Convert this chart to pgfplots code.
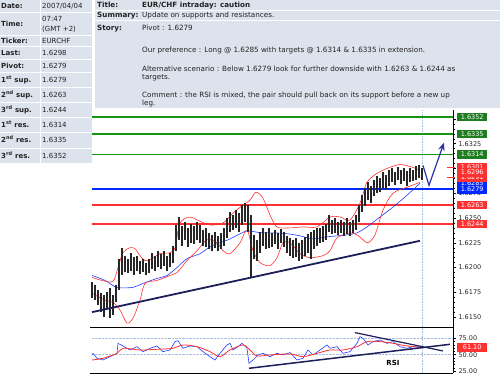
\documentclass[border=0pt]{standalone}
\usepackage{pgfplots}
\pgfplotsset{compat=1.18}
\usepackage{pgfplotstable}
\usepackage{fontspec}
\setmainfont{DejaVu Sans}
\usetikzlibrary{arrows.meta}
\definecolor{panel}{RGB}{221,227,236}
\definecolor{lvgreen}{RGB}{20,150,20}
\definecolor{boxgreen}{RGB}{30,125,30}
\definecolor{lvred}{RGB}{255,48,48}
\definecolor{lvlblue}{RGB}{0,40,255}
\definecolor{mablue}{RGB}{30,60,255}
\definecolor{navy}{RGB}{30,30,90}
\definecolor{txt}{RGB}{34,34,34}
\definecolor{gridc}{RGB}{165,190,225}
\definecolor{arrowc}{RGB}{40,50,170}
\newcommand\ft{\fontsize{7}{8.5}\selectfont}
\newcommand\fp{\fontsize{7.2}{8.5}\selectfont}
\newcommand\fs{\fontsize{6.5}{7.5}\selectfont}

\pgfplotstableread{
x lo hi
92 1.6169 1.6185
95 1.6167 1.6182
98 1.6162 1.6177
101 1.6155 1.6174
104 1.6150 1.6172
107 1.6159 1.6175
110 1.6149 1.6179
113 1.6152 1.6172
116 1.6165 1.6182
119 1.6177 1.6209
122 1.6192 1.6220
125 1.6195 1.6212
128 1.6194 1.6209
131 1.6197 1.6215
134 1.6192 1.6211
137 1.6197 1.6212
140 1.6193 1.6207
143 1.6195 1.6209
146 1.6192 1.6205
149 1.6194 1.6209
152 1.6199 1.6215
155 1.6197 1.6212
158 1.6201 1.6217
161 1.6199 1.6214
164 1.6202 1.6217
167 1.6197 1.6212
170 1.6201 1.6215
173 1.6205 1.6222
176 1.6217 1.6243
179 1.6228 1.6251
182 1.6222 1.6242
185 1.6228 1.6246
188 1.6221 1.6240
191 1.6225 1.6244
194 1.6224 1.6242
197 1.6228 1.6246
200 1.6225 1.6243
203 1.6222 1.6238
206 1.6221 1.6240
209 1.6219 1.6235
212 1.6217 1.6233
215 1.6220 1.6236
218 1.6217 1.6232
221 1.6219 1.6235
224 1.6222 1.6240
227 1.6230 1.6250
230 1.6236 1.6256
233 1.6238 1.6253
236 1.6240 1.6258
239 1.6236 1.6255
242 1.6243 1.6263
245 1.6246 1.6265
248 1.6236 1.6263
251 1.6190 1.6253
254 1.6209 1.6233
257 1.6207 1.6228
260 1.6215 1.6236
263 1.6222 1.6240
266 1.6219 1.6236
269 1.6220 1.6240
272 1.6221 1.6235
275 1.6224 1.6238
278 1.6219 1.6235
281 1.6225 1.6239
284 1.6221 1.6236
287 1.6215 1.6232
290 1.6212 1.6230
293 1.6210 1.6228
296 1.6211 1.6230
299 1.6207 1.6225
302 1.6209 1.6228
305 1.6212 1.6231
308 1.6215 1.6234
311 1.6209 1.6236
314 1.6219 1.6238
317 1.6222 1.6240
320 1.6225 1.6240
323 1.6226 1.6242
326 1.6228 1.6244
329 1.6236 1.6253
332 1.6234 1.6248
335 1.6235 1.6250
338 1.6233 1.6246
341 1.6235 1.6248
344 1.6232 1.6246
347 1.6234 1.6250
350 1.6232 1.6246
353 1.6235 1.6248
356 1.6238 1.6253
359 1.6246 1.6263
362 1.6256 1.6273
365 1.6262 1.6280
368 1.6268 1.6286
371 1.6265 1.6282
374 1.6272 1.6288
377 1.6275 1.6292
380 1.6276 1.6290
383 1.6280 1.6296
386 1.6278 1.6293
389 1.6282 1.6298
392 1.6286 1.6300
395 1.6283 1.6296
398 1.6288 1.6301
401 1.6284 1.6298
404 1.6287 1.6300
407 1.6282 1.6297
410 1.6286 1.6300
413 1.6287 1.6298
416 1.6288 1.6302
419 1.6290 1.6303
422 1.6288 1.6300
}\bars

\tikzset{lbl/.style={anchor=west, xshift=4pt, inner sep=0.6pt, minimum width=30pt, minimum height=8.5pt, font=\fs, text=white}}

\begin{document}
\begin{tikzpicture}
\useasboundingbox (0pt,0pt) rectangle (500pt,374pt);
\begin{scope}[shift={(0pt,374pt)}, x=1pt, y=-1pt]
 % left table
 \foreach \a/\b in {0/12,13/35,36/46,47/59,60/72,73/87,88/102,103/117,118/132,133/148,149/163}{
   \fill[panel] (0,\a) rectangle (40,\b);
   \fill[panel] (41,\a) rectangle (92,\b);
 }
 \begin{scope}[every node/.style={anchor=base west, inner sep=0pt, text=txt}]
 \node[font=\ft\bfseries] at (1,8.5) {Date:};
 \node[font=\ft] at (42,8.5) {2007/04/04};
 \node[font=\ft\bfseries] at (1,26.5) {Time:};
 \node[font=\ft] at (42,22) {07:47};
 \node[font=\ft] at (42,31.5) {(GMT +2)};
 \node[font=\ft\bfseries] at (1,43.5) {Ticker:};
 \node[font=\ft] at (42,43.5) {EURCHF};
 \node[font=\ft\bfseries] at (1,55.5) {Last:};
 \node[font=\ft] at (42,55.5) {1.6298};
 \node[font=\ft\bfseries] at (1,68.5) {Pivot:};
 \node[font=\ft] at (42,68.5) {1.6279};
 \node[font=\ft\bfseries] at (1,82.5) {1\textsuperscript{st} sup.};
 \node[font=\ft] at (42,82.5) {1.6279};
 \node[font=\ft\bfseries] at (1,97.5) {2\textsuperscript{nd} sup.};
 \node[font=\ft] at (42,97.5) {1.6263};
 \node[font=\ft\bfseries] at (1,112.5) {3\textsuperscript{rd} sup.};
 \node[font=\ft] at (42,112.5) {1.6244};
 \node[font=\ft\bfseries] at (1,127.5) {1\textsuperscript{st} res.};
 \node[font=\ft] at (42,127.5) {1.6314};
 \node[font=\ft\bfseries] at (1,143) {2\textsuperscript{nd} res.};
 \node[font=\ft] at (42,143) {1.6335};
 \node[font=\ft\bfseries] at (1,158.5) {3\textsuperscript{rd} res.};
 \node[font=\ft] at (42,158.5) {1.6352};
 \end{scope}
 % top panel
 \fill[panel] (95,0) rectangle (500,10);
 \fill[panel] (95,11) rectangle (500,20);
 \fill[panel] (95,21) rectangle (500,108);
 \begin{scope}[every node/.style={anchor=base west, inner sep=0pt, text=txt}]
 \node[font=\fp\bfseries] at (97,8) {Title:};
 \node[font=\fp\bfseries] at (142,8) {EUR/CHF intraday: caution};
 \node[font=\fp\bfseries] at (97,18) {Summary:};
 \node[font=\fp] at (142,18) {Update on supports and resistances.};
 \node[font=\fp\bfseries] at (97,30.5) {Story:};
 \node[font=\fp] at (142,30.5) {Pivot : 1.6279};
 \node[font=\fp] at (142,52.5) {Our preference : Long @ 1.6285 with targets @ 1.6314 \& 1.6335 in extension.};
 \node[font=\fp] at (142,71.5) {Alternative scenario : Below 1.6279 look for further downside with 1.6263 \& 1.6244 as};
 \node[font=\fp] at (142,79.5) {targets.};
 \node[font=\fp] at (142,97.5) {Comment : the RSI is mixed, the pair should pull back on its support before a new up};
 \node[font=\fp] at (142,105.5) {leg.};
 \end{scope}
\end{scope}

% ---------------- main price axis
\begin{axis}[
 at={(92pt,47pt)}, anchor=south west, scale only axis,
 width=361pt, height=217pt,
 xmin=92, xmax=453, ymin=1.6140, ymax=1.6359,
 clip=false,
 axis x line=none, axis y line*=right,
 axis line style={black, line width=0.6pt},
 ytick={1.615,1.6175,1.62,1.6225,1.625,1.6275,1.63,1.6325,1.635},
 yticklabels={1.6150,1.6175,1.6200,1.6225,1.6250,1.6275,,1.6325,},
 minor y tick num=4,
 tick align=outside,
 major tick length=3pt, minor tick length=1.5pt,
 tick style={black, line width=0.4pt},
 yticklabel style={font=\fs, text=black!85, xshift=-1pt},
]
\addplot[gridc, densely dotted, line width=0.6pt] coordinates {(422,1.6140) (422,1.6359)};
\addplot[lvgreen, line width=1.8pt] coordinates {(92,1.6352) (453,1.6352)};
\addplot[lvgreen, line width=1.8pt] coordinates {(92,1.6335) (453,1.6335)};
\addplot[lvgreen, line width=1.8pt] coordinates {(92,1.6314) (453,1.6314)};
\addplot[lvlblue, line width=1.6pt] coordinates {(92,1.6279) (453,1.6279)};
\addplot[lvred, line width=1.6pt] coordinates {(92,1.6263) (453,1.6263)};
\addplot[lvred, line width=1.6pt] coordinates {(92,1.6244) (453,1.6244)};
% moving average
\addplot[mablue, line width=0.6pt, smooth] coordinates {(92,1.6192) (105,1.6187) (117,1.6180) (133,1.6180) (143,1.6184) (157,1.6189) (167,1.6192) (177,1.6200) (187,1.6209) (200,1.6214) (212,1.6222) (228,1.6228) (242,1.6235) (248,1.6237) (262,1.6235) (275,1.6235) (288,1.6234) (300,1.6232) (313,1.6229) (327,1.6231) (347,1.6233) (357,1.6235) (367,1.6241) (380,1.6251) (393,1.6261) (407,1.6273) (420,1.6285)};
% bands
\addplot[lvred, line width=0.6pt, smooth] coordinates {(92,1.6190) (102,1.6187) (113,1.6186) (118,1.6200) (123,1.6215) (130,1.6220) (135,1.6219) (140,1.6212) (145,1.6207) (152,1.6209) (160,1.6214) (170,1.6215) (175,1.6220) (180,1.6245) (190,1.6251) (197,1.6248) (210,1.6243) (223,1.6245) (233,1.6255) (243,1.6263) (250,1.6268) (256,1.6276) (263,1.6270) (270,1.6253) (277,1.6241) (290,1.6240) (303,1.6241) (317,1.6241) (330,1.6251) (340,1.6251) (350,1.6248) (360,1.6265) (367,1.6286) (377,1.6295) (387,1.6300) (400,1.6304) (413,1.6301) (420,1.6298)};
\addplot[lvred, line width=0.6pt, smooth] coordinates {(92,1.6174) (105,1.6167) (113,1.6165) (120,1.6157) (127,1.6144) (133,1.6149) (140,1.6167) (145,1.6184) (157,1.6187) (170,1.6192) (177,1.6195) (187,1.6207) (197,1.6217) (207,1.6228) (217,1.6225) (223,1.6217) (230,1.6214) (240,1.6225) (247,1.6238) (253,1.6217) (260,1.6205) (270,1.6202) (277,1.6210) (283,1.6225) (290,1.6225) (300,1.6214) (310,1.6210) (323,1.6212) (330,1.6217) (337,1.6230) (350,1.6235) (357,1.6233) (363,1.6228) (368,1.6225) (375,1.6233) (383,1.6258) (393,1.6275) (407,1.6281) (420,1.6286)};
% bars (low-high)
\addplot[draw=none, mark=none, error bars/.cd, y dir=minus, y explicit, error mark=none,
  error bar style={draw=black!85, line width=1.15pt}]
  table[x=x, y=hi, y error minus expr=\thisrow{hi}-\thisrow{lo}] {\bars};
% trend line
\addplot[navy, line width=1.8pt] coordinates {(92,1.6155) (420,1.6227)};
% projection arrow
\addplot[arrowc, line width=1.2pt, -{Stealth[length=8pt,width=6.5pt]}] coordinates {(423,1.6303) (429,1.6283) (444,1.6326)};
% small level marks
\addplot[lvred, line width=0.8pt] coordinates {(447,1.6301) (455,1.6301)};
\addplot[lvred, line width=0.8pt] coordinates {(447,1.6291) (455,1.6291)};
\coordinate (A1) at (axis cs:453,1.6352);
\coordinate (A2) at (axis cs:453,1.6335);
\coordinate (A3) at (axis cs:453,1.6314);
\coordinate (A4) at (axis cs:453,1.6301);
\coordinate (A5) at (axis cs:453,1.6291);
\coordinate (A6) at (axis cs:453,1.6296);
\coordinate (A7) at (axis cs:453,1.6285);
\coordinate (A8) at (axis cs:453,1.6279);
\coordinate (A9) at (axis cs:453,1.6263);
\coordinate (A10) at (axis cs:453,1.6244);
\end{axis}
\node[lbl, fill=boxgreen] at (A1) {1.6352};
\node[lbl, fill=boxgreen] at (A2) {1.6335};
\node[lbl, fill=boxgreen] at (A3) {1.6314};
\node[lbl, fill=lvlblue] at (A7) {1.6285};
\node[lbl, fill=lvred] at (A4) {1.6301};
\node[lbl, fill=lvred] at (A5) {1.6291};
\node[lbl, fill=lvred] at (A6) {1.6296};
\node[lbl, fill=lvlblue] at (A8) {1.6279};
\node[lbl, fill=lvred] at (A9) {1.6263};
\node[lbl, fill=lvred] at (A10) {1.6244};

% ---------------- RSI axis
\begin{axis}[
 at={(92pt,1pt)}, anchor=south west, scale only axis,
 width=361pt, height=46pt,
 xmin=92, xmax=453, ymin=21.9, ymax=92.3,
 clip=false,
 axis x line=none, axis y line*=right,
 axis line style={black, line width=0.6pt},
 ytick={25,50,75},
 yticklabels={25.00,50.00,75.00},
 minor y tick num=4,
 tick align=outside,
 major tick length=3pt, minor tick length=1.5pt,
 tick style={black, line width=0.4pt},
 yticklabel style={font=\fs, text=black!85, xshift=-1pt},
]
\addplot[gridc, densely dotted, line width=0.4pt] coordinates {(92,75) (453,75)};
\addplot[gridc, densely dotted, line width=0.4pt] coordinates {(92,50) (453,50)};
\addplot[gridc, densely dotted, line width=0.6pt] coordinates {(422,21.9) (422,92.3)};
\addplot[mablue, line width=0.6pt] coordinates {(92,49.5) (93,52.0) (97,44.4) (103,41.8) (110,46.9) (117,52.0) (118,67.3) (123,63.3) (130,57.1) (137,62.2) (143,54.6) (150,59.7) (157,63.3) (163,54.6) (170,57.1) (175,69.9) (178,71.4) (183,59.7) (190,63.3) (197,62.2) (203,54.6) (210,46.9) (215,41.8) (220,52.0) (227,64.8) (230,67.3) (233,57.1) (238,62.2) (242,67.3) (247,59.7) (249,36.7) (253,41.8) (258,49.5) (263,52.0) (270,46.9) (277,52.0) (283,49.5) (290,53.1) (297,41.8) (303,44.4) (308,57.1) (313,49.5) (320,57.1) (327,64.8) (330,59.7) (337,62.2) (343,52.0) (350,54.6) (357,67.3) (360,77.6) (363,75.0) (368,64.8) (373,69.9) (380,72.4) (387,67.3) (393,69.9) (400,62.2) (407,59.7) (413,62.2) (422,61.2)};
\addplot[lvred, line width=0.8pt, smooth] coordinates {(92,41.8) (103,44.4) (117,52.0) (123,59.7) (140,57.1) (157,58.2) (173,59.7) (183,64.8) (197,62.2) (210,54.6) (220,46.9) (230,57.1) (243,64.8) (250,57.1) (257,48.0) (270,49.5) (290,51.0) (303,46.9) (317,52.0) (330,57.1) (343,57.1) (357,62.2) (367,69.9) (380,69.9) (393,67.3) (407,63.3) (422,61.2)};
\addplot[navy, line width=1.5pt] coordinates {(249,29.1) (450,65.8)};
\addplot[navy, line width=1.2pt] coordinates {(355,83.7) (443,55.6)};
\node[font=\ft\bfseries, text=black] at (axis cs:393,37.2) {RSI};
\coordinate (R1) at (axis cs:453,61.1);
\end{axis}
\node[lbl, fill=lvred] at (R1) {61.10};

% separators
\begin{scope}[shift={(0pt,374pt)}, x=1pt, y=-1pt]
 \draw[black, line width=0.8pt] (90,327) -- (453,327);
 \draw[black, line width=0.8pt] (90,373) -- (453,373);
\end{scope}
\end{tikzpicture}
\end{document}
